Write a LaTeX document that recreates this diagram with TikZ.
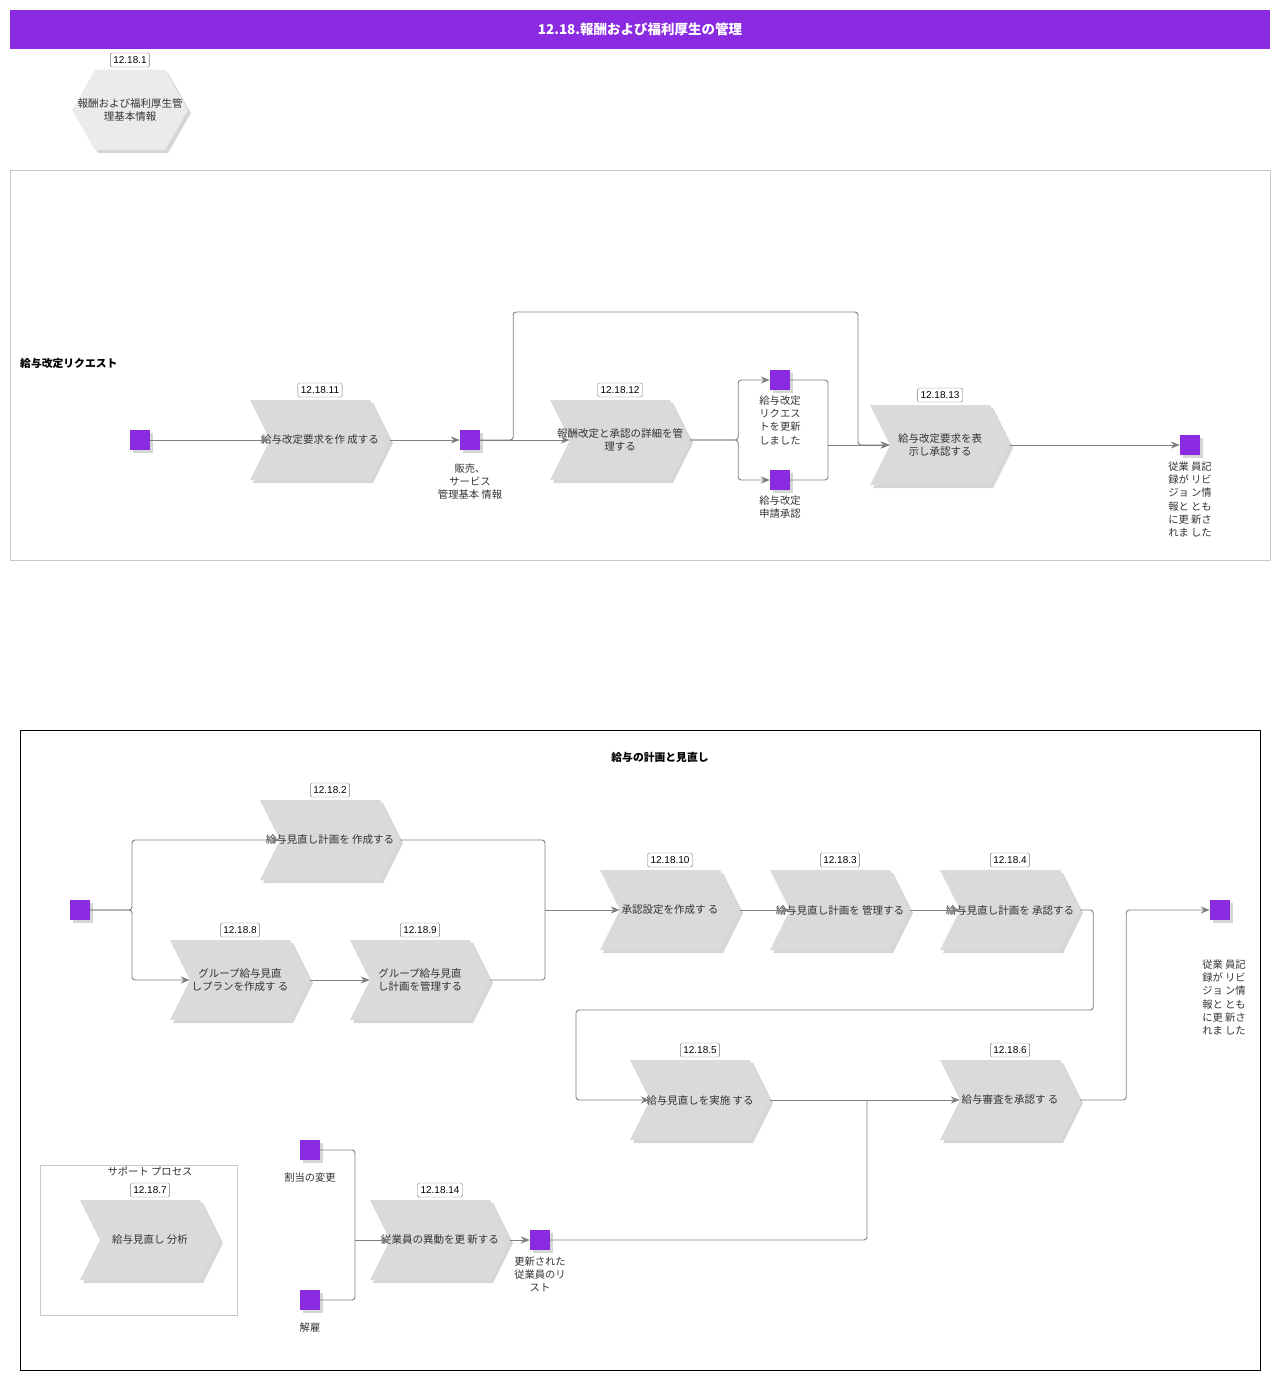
\documentclass[tikz,border=0pt]{standalone}
\usepackage{fontspec}
\setmainfont{Liberation Sans}
\newfontfamily\jp{Noto Sans CJK JP}
\usetikzlibrary{shapes.symbols,shadows,arrows.meta}
\definecolor{evpurple}{HTML}{8A2BE2}
\definecolor{fngray}{HTML}{D9DADC}
\definecolor{hexgray}{HTML}{EBEBEB}
\definecolor{wiregray}{HTML}{7F7F7F}
\definecolor{framegray}{HTML}{C8C8C8}

\begin{document}
\begin{tikzpicture}[x=1pt, y=-1pt,
  shade/.style={drop shadow={shadow xshift=3pt, shadow yshift=-3pt, fill=black!40, opacity=.4}},
  fn/.style={signal, signal to=east, signal from=west, signal pointer angle=126.87,
    minimum width=140pt, minimum height=80pt, inner sep=0pt, fill=fngray, shade},
  ev/.style={rectangle, minimum size=20pt, inner sep=0pt, fill=evpurple, shade},
  num/.style={draw=black!55, rounded corners=1.5pt, fill=white, font=\fontsize{10}{11}\selectfont,
    inner xsep=3pt, inner ysep=1.5pt, minimum height=14pt},
  txt/.style={font=\jp\fontsize{10.5}{13.3}\selectfont, align=center, text=black!80},
  small/.style={font=\jp\fontsize{10.3}{13.3}\selectfont, align=center, text=black!80},
  wire/.style={draw=wiregray, line width=0.9pt, rounded corners=3pt},
  >={Stealth[length=9pt, width=7pt]}
]
  \useasboundingbox (0,0) rectangle (1280,1380);

  % title
  \node[fill=evpurple, minimum width=1260pt, minimum height=39pt, inner sep=0pt,
    text=white, font=\jp\bfseries\fontsize{13.5}{15}\selectfont] (title) at (640,29.5) {12.18.報酬および福利厚生の管理};

  % master data
  \draw[fill=hexgray, draw=none, shade] (72,110) -- (95,70) -- (165,70) -- (188,110) -- (165,150) -- (95,150) -- cycle;
  \node[txt] (h1) at (130,110) {報酬および福利厚生管\\理基本情報};
  \node[num] (n1) at (130,60) {12.18.1};

  %%%% Box 1: 給与改定リクエスト
  \draw[framegray] (10,170) rectangle (1270,560);
  \node[anchor=west, inner sep=0pt, font=\jp\bfseries\fontsize{10.8}{12}\selectfont] (b1) at (20,363) {給与改定リクエスト};

  \node[ev] (e1) at (140,440) {};
  \node[fn, label={[txt]center:給与改定要求を作 成する}] (f11) at (320,440) {};
  \node[num] (n11) at (320,390) {12.18.11};
  \node[ev] (e2) at (470,440) {};
  \node[small, anchor=north] (l2) at (470,460) {販売、\\サービス\\管理基本 情報};
  \node[fn, label={[txt]center:報酬改定と承認の詳細を管\\理する}] (f12) at (620,440) {};
  \node[num] (n12) at (620,390) {12.18.12};
  \node[ev] (e3) at (780,380) {};
  \node[small, anchor=north] (l3) at (780,392) {給与改定\\リクエス\\トを更新\\しました};
  \node[ev] (e4) at (780,480) {};
  \node[small, anchor=north] (l4) at (780,492) {給与改定\\申請承認};
  \node[fn, label={[txt]center:給与改定要求を表\\示し承認する}] (f13) at (940,445) {};
  \node[num] (n13) at (940,395) {12.18.13};
  \node[ev] (e5) at (1190,445) {};
  \node[small, anchor=north] (l5) at (1190,458) {従業 員記\\録が リビ\\ジョ ン情\\報と とも\\に更 新さ\\れま した};

  \coordinate (j13) at (828,445);
  \draw[wire,->] (e1) -- (f11.west); % e1 -> 12.18.11
  \draw[wire,->] (f11.east) -- (e2);
  \draw[wire,->] (e2) -- (f12.west);
  \draw[wire,->] (e2.east) -- ++(33,0) |- (858,312) -- (858,445) -- (f13.west); % e2 -> 12.18.13
  \draw[wire,->] (f12.east) -- ++(48,0) |- (e3);
  \draw[wire,->] (f12.east) -- ++(48,0) |- (e4);
  \draw[wire] (e3) -| (j13);
  \draw[wire] (e4) -| (j13);
  \draw[wire,->] (j13) -- (f13.west);
  \draw[wire,->] (f13.east) -- (e5);

  %%%% Box 2: 給与の計画と見直し
  \draw[black] (20,730) rectangle (1260,1370);
  \node[font=\jp\bfseries\fontsize{10.8}{12}\selectfont] (b2) at (660,757) {給与の計画と見直し};

  \node[ev] (e6) at (80,910) {};
  \node[fn, label={[txt]center:給与見直し計画を 作成する}] (f2) at (330,840) {};
  \node[num] (n2) at (330,790) {12.18.2};
  \node[fn, label={[txt]center:グループ給与見直\\しプランを作成す る}] (f8) at (240,980) {};
  \node[num] (n8) at (240,930) {12.18.8};
  \node[fn, label={[txt]center:グループ給与見直\\し計画を管理する}] (f9) at (420,980) {};
  \node[num] (n9) at (420,930) {12.18.9};
  \node[fn, label={[txt]center:承認設定を作成す る}] (f10) at (670,910) {};
  \node[num] (n10) at (670,860) {12.18.10};
  \node[fn, label={[txt]center:給与見直し計画を 管理する}] (f3) at (840,910) {};
  \node[num] (n3) at (840,860) {12.18.3};
  \node[fn, label={[txt]center:給与見直し計画を 承認する}] (f4) at (1010,910) {};
  \node[num] (n4) at (1010,860) {12.18.4};
  \node[ev] (e7) at (1220,910) {};
  \node[small, anchor=north] (l7) at (1224,956) {従業 員記\\録が リビ\\ジョ ン情\\報と とも\\に更 新さ\\れま した};
  \node[fn, label={[txt]center:給与見直しを実施 する}] (f5) at (700,1100) {};
  \node[num] (n5) at (700,1050) {12.18.5};
  \node[fn, label={[txt]center:給与審査を承認す る}] (f6) at (1010,1100) {};
  \node[num] (n6) at (1010,1050) {12.18.6};

  % support process
  \draw[framegray] (40,1165) rectangle (237,1315);
  \node[small] (sp) at (150,1171) {サポート プロセス};
  \node[fn, label={[txt]center:給与見直し 分析}] (f7) at (150,1240) {};
  \node[num] (n7) at (150,1190) {12.18.7};

  \node[ev] (e8) at (310,1150) {};
  \node[small, anchor=north] (l8) at (310,1169) {割当の変更};
  \node[ev] (e9) at (310,1300) {};
  \node[small, anchor=north] (l9) at (310,1319) {解雇};
  \node[fn, label={[txt]center:従業員の異動を更 新する}] (f14) at (440,1240) {};
  \node[num] (n14) at (440,1190) {12.18.14};
  \node[ev] (e10) at (540,1240) {};
  \node[small, anchor=north] (l10) at (540,1253) {更新された\\従業員のリ\\スト};

  \coordinate (j6) at (132,910);
  \coordinate (j10) at (545,910);
  \coordinate (j14) at (355,1240);
  \draw[wire,->] (e6) -- (j6) |- (f2.west);
  \draw[wire,->] (e6) -- (j6) |- (f8.west);
  \draw[wire,->] (f8.east) -- (f9.west);
  \draw[wire] (f2.east) -| (j10);
  \draw[wire] (f9.east) -| (j10);
  \draw[wire,->] (j10) -- (f10.west);
  \draw[wire,->] (f10.east) -- (f3.west);
  \draw[wire,->] (f3.east) -- (f4.west);
  \draw[wire,->] (f4.east) -- ++(13,0) |- (576,1010) |- (f5.west); % 12.18.4 -> 12.18.5
  \draw[wire,->] (f5.east) -- (f6.west);
  \draw[wire] (e10) -| (867,1100);
  \draw[wire,->] (f6.east) -- ++(46,0) |- (e7);
  \draw[wire] (e8) -| (j14);
  \draw[wire] (e9) -| (j14);
  \draw[wire,->] (j14) -- (f14.west);
  \draw[wire,->] (f14.east) -- (e10);

\end{tikzpicture}
\end{document}
